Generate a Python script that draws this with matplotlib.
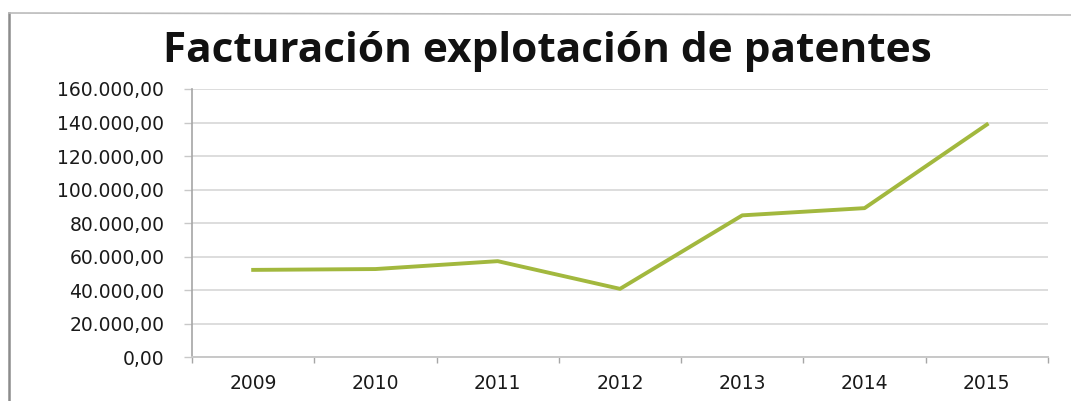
import matplotlib
matplotlib.use("Agg")
import matplotlib.pyplot as plt
from matplotlib.ticker import FuncFormatter, FixedLocator

# datos
anios = ["2009", "2010", "2011", "2012", "2013", "2014", "2015"]
facturacion = [52200, 52700, 57400, 40900, 84700, 89000, 138800]
titulo = "Facturación explotación de patentes"


def formato_es(v, pos=None):
    # 160000 -> 160.000,00
    s = f"{v:,.2f}"
    return s.replace(",", "X").replace(".", ",").replace("X", ".")


fig = plt.figure(figsize=(10.71, 4.01), dpi=100)
ax = fig.add_axes([0.1793, 0.1085, 0.7992, 0.6696])

x = list(range(len(anios)))
ax.plot(x, facturacion, color="#A2B83E", linewidth=2.8, solid_joinstyle="round")

ax.set_xlim(-0.5, len(anios) - 0.5)
ax.set_ylim(0, 160000)
ax.set_yticks(range(0, 160001, 20000))
ax.yaxis.set_major_formatter(FuncFormatter(formato_es))
ax.grid(axis="y", color="#DADADA", linewidth=1.3)
ax.set_axisbelow(True)

# ticks en los limites de categoria, etiquetas en el centro
ax.xaxis.set_major_locator(FixedLocator([i - 0.5 for i in range(len(anios) + 1)]))
ax.xaxis.set_major_formatter(FuncFormatter(lambda v, p: ""))
ax.xaxis.set_minor_locator(FixedLocator(x))
ax.set_xticklabels(anios, minor=True)
ax.tick_params(axis="x", which="major", length=4, width=1, color="#A6A6A6", direction="out")
ax.tick_params(axis="x", which="minor", length=0, pad=12, labelsize=13.5, labelcolor="#1a1a1a")
ax.tick_params(axis="y", length=6, width=1, color="#C8C8C8", pad=14, labelsize=13.5, labelcolor="#1a1a1a")

for lado in ["top", "right"]:
    ax.spines[lado].set_visible(False)
ax.spines["left"].set_color("#A6A6A6")
ax.spines["bottom"].set_color("#C8C8C8")
ax.spines["left"].set_linewidth(1.2)
ax.spines["bottom"].set_linewidth(1.4)

fig.text(547 / 1071, 1 - 52 / 401, titulo, ha="center", va="center",
         fontsize=30.5, fontweight="bold", family="Open Sans", color="#111111")

# borde del grafico escaneado
fig.add_artist(plt.Line2D([9 / 1071, 9 / 1071], [0, 1 - 13 / 401], color="#8C8C8C", linewidth=1.8))
fig.add_artist(plt.Line2D([9 / 1071, 1], [1 - 13 / 401, 1 - 15 / 401], color="#BBBBBB", linewidth=1.2))

fig.savefig("out.png", dpi=100)
